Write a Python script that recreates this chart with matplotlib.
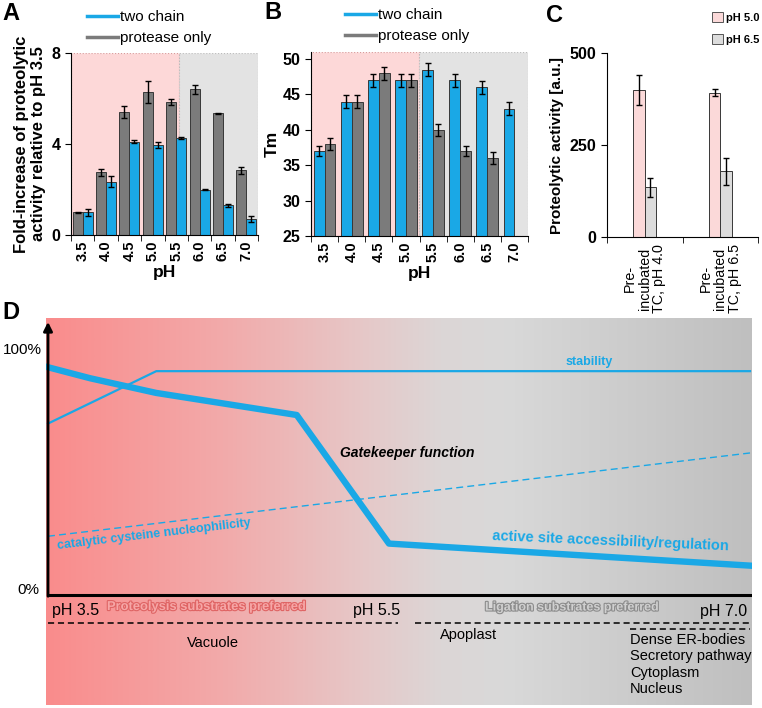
import numpy as np
import matplotlib
matplotlib.use("Agg")
import matplotlib.pyplot as plt
from matplotlib.colors import LinearSegmentedColormap
from matplotlib.lines import Line2D
from matplotlib.patches import Patch
import matplotlib.patheffects as pe

plt.rcParams['font.family'] = ['Liberation Sans', 'DejaVu Sans']

# ---- data ----
ph_labels = ["3.5", "4.0", "4.5", "5.0", "5.5", "6.0", "6.5", "7.0"]

# A: fold increase of proteolytic activity
a_protease = [1.0, 2.75, 5.4, 6.3, 5.85, 6.4, 5.35, 2.85]
a_protease_err = [0.03, 0.14, 0.27, 0.48, 0.15, 0.2, 0.03, 0.15]
a_twochain = [1.0, 2.35, 4.1, 3.95, 4.25, 2.0, 1.3, 0.7]
a_twochain_err = [0.15, 0.25, 0.07, 0.12, 0.05, 0.02, 0.07, 0.12]

# B: Tm
b_twochain = [37, 44, 47, 47, 48.5, 47, 46, 43]
b_twochain_err = [0.7, 0.9, 0.9, 0.9, 0.9, 0.9, 0.9, 0.9]
b_protease = [38, 44, 48, 47, 40, 37, 36, np.nan]
b_protease_err = [0.8, 0.9, 0.9, 0.9, 0.8, 0.7, 0.8, np.nan]

# C: proteolytic activity after pre-incubation
c_groups = ["Pre-\nincubated\nTC, pH 4.0", "Pre-\nincubated\nTC, pH 6.5"]
c_ph50 = [400, 392]
c_ph50_err = [40, 10]
c_ph65 = [135, 178]
c_ph65_err = [25, 38]

# D: scheme
d_access_ph = [3.5, 3.71, 4.04, 4.74, 5.2, 7.0]
d_access = [93, 88.5, 82.5, 73.5, 21, 12]
d_stab_ph = [3.5, 4.04, 7.0]
d_stab = [70, 91.4, 91.4]
d_nucl_ph = [3.5, 7.0]
d_nucl = [24, 58]

BLUE = '#1aa8e6'
GRAY = '#7b7b7b'
EDGE = '#383838'
PINK_BG = '#fdd8d8'
GRAY_BG = '#e3e3e3'

W, H = 762, 708
fig = plt.figure(figsize=(W / 100, H / 100), dpi=100)


def px_axes(l, t, r, b):
    return fig.add_axes([l / W, 1 - b / H, (r - l) / W, (b - t) / H])


def bar_panel(ax, split, ylo, yhi):
    ax.set_xlim(-0.5, len(ph_labels) - 0.5)
    ax.set_ylim(ylo, yhi)
    ax.axvspan(-0.5, split, facecolor=PINK_BG, edgecolor='#d89a9a', ls=':', lw=0.8, zorder=0)
    ax.axvspan(split, len(ph_labels) - 0.5, facecolor=GRAY_BG, edgecolor='#bbbbbb', ls=':', lw=0.8, zorder=0)
    for s in ['top', 'right']:
        ax.spines[s].set_visible(False)
    ax.set_xticks(range(len(ph_labels)), ph_labels, rotation=90, fontweight='bold', fontsize=10.5)
    ax.set_xticks(np.arange(-0.5, len(ph_labels)), minor=True)
    ax.tick_params(axis='x', which='major', length=0, pad=4)
    ax.tick_params(axis='x', which='minor', length=4)
    ax.tick_params(axis='y', length=4)
    ax.set_xlabel('pH', fontweight='bold', fontsize=12.5, labelpad=3)


ekw = dict(ecolor='black', elinewidth=1, capsize=2.5, capthick=1)
x = np.arange(len(ph_labels))

# ---- A ----
axA = px_axes(71, 53, 258, 235)
bar_panel(axA, 4.12, 0, 8)
axA.bar(x - 0.215, a_protease, 0.43, yerr=a_protease_err, color=GRAY, edgecolor=EDGE, lw=0.7, error_kw=ekw, zorder=2)
axA.bar(x + 0.215, a_twochain, 0.43, yerr=a_twochain_err, color=BLUE, edgecolor=EDGE, lw=0.7, error_kw=ekw, zorder=2)
axA.set_yticks([0, 4, 8], ['0', '4', '8'], fontweight='bold', fontsize=11.5)
axA.set_ylabel('Fold-increase of proteolytic\nactivity relative to pH 3.5', fontweight='bold', fontsize=12, labelpad=4)
axA.legend([Line2D([], [], color=BLUE, lw=2.5), Line2D([], [], color=GRAY, lw=2.5)],
           ['two chain', 'protease only'], loc='upper left', bbox_to_anchor=(87 / W, 1 - 10 / H),
           bbox_transform=fig.transFigure, frameon=False, fontsize=11, handlelength=2.0,
           handletextpad=0.15, labelspacing=0.45, borderpad=0, borderaxespad=0)

# ---- B ----
axB = px_axes(311, 52, 528, 236)
bar_panel(axB, 3.47, 25, 51)
axB.bar(x - 0.2, b_twochain, 0.4, yerr=b_twochain_err, color=BLUE, edgecolor=EDGE, lw=0.7, error_kw=ekw, zorder=2)
axB.bar(x + 0.2, b_protease, 0.4, yerr=b_protease_err, color=GRAY, edgecolor=EDGE, lw=0.7, error_kw=ekw, zorder=2)
axB.set_yticks(range(25, 51, 5), [str(v) for v in range(25, 51, 5)], fontweight='bold', fontsize=11.5)
axB.set_ylabel('Tm', fontweight='bold', fontsize=12.5, labelpad=2)
axB.legend([Line2D([], [], color=BLUE, lw=2.5), Line2D([], [], color=GRAY, lw=2.5)],
           ['two chain', 'protease only'], loc='upper left', bbox_to_anchor=(345 / W, 1 - 8 / H),
           bbox_transform=fig.transFigure, frameon=False, fontsize=11, handlelength=2.0,
           handletextpad=0.15, labelspacing=0.45, borderpad=0, borderaxespad=0)

# ---- C ----
axC = px_axes(607, 53, 758, 237)
xc = np.arange(len(c_groups))
axC.bar(xc - 0.075, c_ph50, 0.15, yerr=c_ph50_err, color='#fbd9d9', edgecolor=EDGE, lw=0.7, error_kw=ekw)
axC.bar(xc + 0.075, c_ph65, 0.15, yerr=c_ph65_err, color='#dcdcdc', edgecolor=EDGE, lw=0.7, error_kw=ekw)
axC.set_xlim(-0.5, 1.5)
axC.set_ylim(0, 500)
for s in ['top', 'right']:
    axC.spines[s].set_visible(False)
axC.set_xticks(xc, c_groups, rotation=90, fontsize=10.3, linespacing=1.05)
axC.set_xticks([-0.5, 0.5, 1.5], minor=True)
axC.tick_params(axis='x', which='major', length=0, pad=5)
axC.tick_params(axis='x', which='minor', length=4)
axC.tick_params(axis='y', length=4)
axC.set_yticks([0, 250, 500], ['0', '250', '500'], fontweight='bold', fontsize=11.5)
axC.set_ylabel('Proteolytic activity [a.u.]', fontweight='bold', fontsize=11, labelpad=4)
axC.legend([Patch(facecolor='#fbd9d9', edgecolor='#555555', lw=0.7),
            Patch(facecolor='#dcdcdc', edgecolor='#555555', lw=0.7)],
           ['pH 5.0', 'pH 6.5'], loc='upper left', bbox_to_anchor=(712 / W, 1 - 12 / H),
           bbox_transform=fig.transFigure, frameon=False, prop=dict(weight='bold', size=8),
           handlelength=0.95, handleheight=0.95, handletextpad=0.3, labelspacing=1.05,
           borderpad=0, borderaxespad=0)

# ---- D ----
axD = px_axes(46, 318, 752, 705)
x0, x1 = 3.49, 7.01
y0, y1 = -44.9, 113.1
grad_cmap = LinearSegmentedColormap.from_list(
    'grad', [(0.0, '#fa8c8c'), (0.25, '#f2aaaa'), (0.45, '#e6c8c8'), (0.56, '#dcd6d6'),
             (0.65, '#d9d9d9'), (1.0, '#bfbfbf')])
axD.imshow(np.linspace(0, 1, 512)[None, :], extent=[x0, x1, y0, y1], aspect='auto',
           cmap=grad_cmap, zorder=0)
axD.set_xlim(x0, x1)
axD.set_ylim(y0, y1)
axD.set_axis_off()

axD.plot([3.5, x1], [0, 0], color='black', lw=2.2, solid_capstyle='butt', zorder=3)
axD.annotate('', xy=(3.5, 111.5), xytext=(3.5, -0.5),
             arrowprops=dict(arrowstyle='-|>', color='black', lw=2, mutation_scale=13,
                             shrinkA=0, shrinkB=0), zorder=3)

axD.plot(d_stab_ph, d_stab, color=BLUE, lw=1.6, zorder=2)
axD.plot(d_nucl_ph, d_nucl, color=BLUE, lw=1, ls=(0, (5, 3)), zorder=2)
axD.plot(d_access_ph, d_access, color=BLUE, lw=4.6, zorder=2)

axD.text(3.47, 100, '100%', ha='right', va='center', fontsize=11)
axD.text(3.455, 2, '0%', ha='right', va='center', fontsize=11)
axD.text(6.2, 92.6, 'stability', color=BLUE, fontweight='bold', fontsize=9, ha='center', va='bottom')
axD.text(4.956, 58, 'Gatekeeper function', fontweight='bold', fontstyle='italic', fontsize=10,
         ha='left', va='center')
axD.text(3.55, 18.6, 'catalytic cysteine nucleophilicity', color=BLUE, fontweight='bold', fontsize=9,
         rotation=6.8, rotation_mode='anchor', ha='left', va='baseline')
axD.text(5.714, 22.4, 'active site accessibility/regulation', color=BLUE, fontweight='bold',
         fontsize=10.5, rotation=-2.5, rotation_mode='anchor', ha='left', va='baseline')

axD.text(3.52, -6.3, 'pH 3.5', fontsize=11.5, ha='left', va='center')
axD.text(5.02, -6.3, 'pH 5.5', fontsize=11.5, ha='left', va='center')
axD.text(6.985, -6.9, 'pH 7.0', fontsize=11.5, ha='right', va='center')
axD.text(3.794, -4.9, 'Proteolysis substrates preferred', color='#f6a6a6', fontweight='bold',
         fontsize=9.3, ha='left', va='center',
         path_effects=[pe.withStroke(linewidth=1.6, foreground='#df6464')])
axD.text(5.679, -5.1, 'Ligation substrates preferred', color='#d0d0d0', fontweight='bold',
         fontsize=9, ha='left', va='center',
         path_effects=[pe.withStroke(linewidth=1.6, foreground='#8c8c8c')])

dash = dict(color='black', lw=1.1, ls=(0, (4, 2.5)))
axD.plot([3.5, 5.245], [-11.3, -11.3], **dash)
axD.plot([5.33, 7.0], [-11.3, -11.3], **dash)
axD.plot([6.40, 7.0], [-14.0, -14.0], **dash)
axD.text(4.32, -19.6, 'Vacuole', fontsize=10.5, ha='center', va='center')
axD.text(5.454, -16.3, 'Apoplast', fontsize=10.5, ha='left', va='center')
axD.text(6.402, -15.6, 'Dense ER-bodies\nSecretory pathway\nCytoplasm\nNucleus', fontsize=10.5,
         ha='left', va='top', linespacing=1.2)

# panel letters
for lab, px, py in [('A', 2, 2), ('B', 264, 1), ('C', 546, 4), ('D', 2, 301)]:
    fig.text(px / W, 1 - py / H, lab, fontsize=17, fontweight='bold', ha='left', va='top')

fig.savefig('out.png', dpi=100)
